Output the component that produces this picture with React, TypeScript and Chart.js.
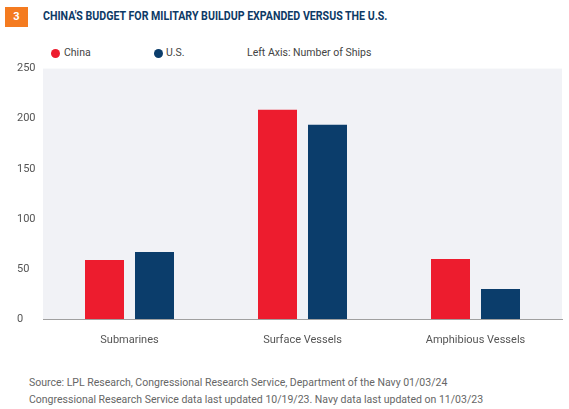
import React, { useEffect, useRef } from "react";
import { Chart, registerables } from "chart.js";

Chart.register(...registerables);

const categories = ["Submarines", "Surface Vessels", "Amphibious Vessels"];
const chinaShips = [59, 209, 60];
const usShips = [67, 194, 30];
const yTicks = [0, 50, 100, 150, 200, 250];

const RED = "#ED1C2E";
const NAVY = "#0B3D6B";
const FONT = "Roboto, 'Noto Sans', sans-serif";

const bgPlugin = {
  id: "plotBg",
  beforeDraw(chart: any) {
    const { ctx, chartArea } = chart;
    ctx.save();
    ctx.fillStyle = "#F1F2F6";
    ctx.fillRect(chartArea.left, chartArea.top, chartArea.right - chartArea.left, chartArea.bottom - chartArea.top);
    ctx.restore();
  },
};

function BarChart() {
  const ref = useRef<HTMLCanvasElement | null>(null);
  useEffect(() => {
    if (!ref.current) return;
    const chart = new Chart(ref.current, {
      type: "bar",
      data: {
        labels: categories,
        datasets: [
          { label: "China", data: chinaShips, backgroundColor: RED, barPercentage: 0.78, categoryPercentage: 0.578 },
          { label: "U.S.", data: usShips, backgroundColor: NAVY, barPercentage: 0.78, categoryPercentage: 0.578 },
        ],
      },
      options: {
        animation: false,
        responsive: false,
        maintainAspectRatio: false,
        layout: { padding: { top: 7, right: 7, left: 17, bottom: 0 } },
        plugins: { legend: { display: false }, tooltip: { enabled: false } },
        scales: {
          x: {
            grid: { display: false, drawTicks: false },
            border: { display: true, color: "#A0A0A0", width: 1 },
            ticks: { color: "#555", font: { family: FONT, size: 11 }, padding: 15 },
            afterFit(scale: any) { scale.height = 40; },
          },
          y: {
            min: 0,
            max: 250,
            afterBuildTicks(scale: any) { scale.ticks = yTicks.map((v) => ({ value: v })); },
            grid: { display: false, drawTicks: false },
            border: { display: false },
            ticks: { color: "#555", font: { family: FONT, size: 11 }, crossAlign: "far", padding: 8 },
            afterFit(scale: any) { scale.width = 26; },
          },
        },
      },
      plugins: [bgPlugin],
    } as any);
    return () => chart.destroy();
  }, []);
  return <canvas ref={ref} width={569} height={305} style={{ position: "absolute", left: 0, top: 54, width: 569, height: 305 }} />;
}

export default function App() {
  useEffect(() => {
    document.body.style.margin = "0";
  }, []);
  const dot = (c: string) => ({ display: "inline-block", width: 9, height: 9, borderRadius: "50%", background: c, position: "absolute" as const, top: 49 });
  const legendText = { position: "absolute" as const, top: 46, fontSize: 10.5, color: "#444", lineHeight: "14px" };
  return (
    <div style={{ position: "relative", width: 569, height: 409, background: "#fff", overflow: "hidden", fontFamily: FONT }}>
      <div style={{ position: "absolute", left: 5, top: 7, width: 23, height: 20, background: "#F47B20", color: "#fff", fontWeight: 700, fontSize: 11, lineHeight: "20px", textAlign: "center" }}>3</div>
      <div style={{ position: "absolute", left: 43, top: 9, fontWeight: 700, fontSize: 12, color: "#0D3A66", whiteSpace: "nowrap", transform: "scaleX(0.885)", transformOrigin: "left", lineHeight: "14px" }}>
        CHINA'S BUDGET FOR MILITARY BUILDUP EXPANDED VERSUS THE U.S.
      </div>
      <span style={{ ...dot(RED), left: 51 }} />
      <span style={{ ...legendText, left: 64 }}>China</span>
      <span style={{ ...dot(NAVY), left: 154 }} />
      <span style={{ ...legendText, left: 166 }}>U.S.</span>
      <span style={{ ...legendText, left: 247 }}>Left Axis: Number of Ships</span>
      <BarChart />
      <div style={{ position: "absolute", left: 29, top: 374, fontSize: 10.5, color: "#666", lineHeight: "17px", whiteSpace: "nowrap" }}>
        <div>Source: LPL Research, Congressional Research Service, Department of the Navy 01/03/24</div>
        <div>Congressional Research Service data last updated 10/19/23. Navy data last updated on 11/03/23</div>
      </div>
    </div>
  );
}
